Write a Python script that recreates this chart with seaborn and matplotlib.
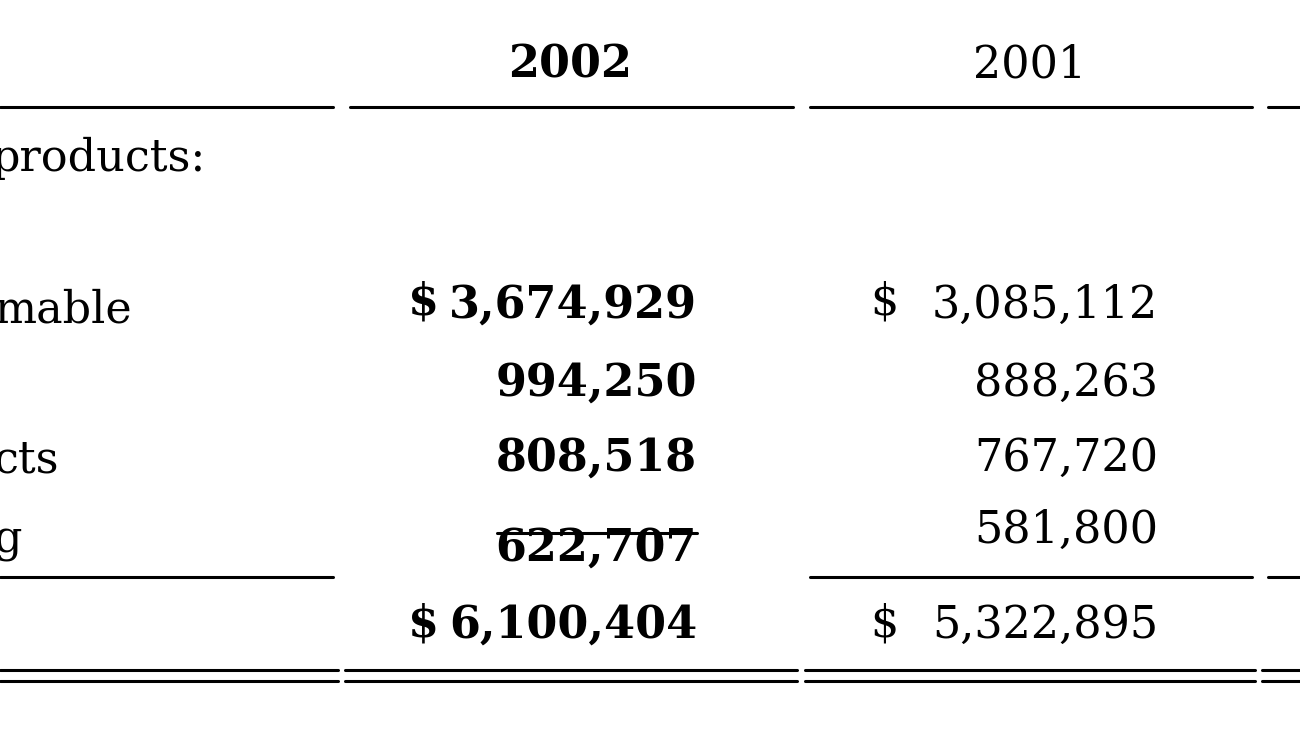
import matplotlib
matplotlib.use("Agg")
from matplotlib import pyplot as plt
import seaborn as sns

sns.set_style("white")
plt.rcParams['font.family'] = ['DejaVu Serif', 'Liberation Serif']
plt.rcParams['text.color'] = 'black'

# table data
years = ["2002", "2001"]
row_labels = ["mable", "", "cts", "g"]
values_2002 = ["3,674,929", "994,250", "808,518", "622,707"]
values_2001 = ["3,085,112", "888,263", "767,720", "581,800"]
totals = ["6,100,404", "5,322,895"]

fig = plt.figure(figsize=(13, 7.32), dpi=100)
ax = fig.add_axes([0, 0, 1, 1])
ax.set_xlim(0, 1300)
ax.set_ylim(732, 0)
ax.axis("off")

fs = 32
col_center = [570, 1030]
col_right = [697, 1158]
dollar_x = [408, 870]
weights = ["bold", "normal"]
row_y = [305, 383, 458, 548]

for yr, cx, w in zip(years, col_center, weights):
    ax.text(cx, 65, yr, ha="center", va="center", fontsize=fs, fontweight=w)

ax.text(-8, 158, "products:", ha="left", va="center", fontsize=fs)
for lab, y in zip(row_labels, [310, 383, 460, 540]):
    if lab:
        ax.text(-6, y, lab, ha="left", va="center", fontsize=fs)

for vals, rx, w, dx in zip([values_2002, values_2001], col_right, weights, dollar_x):
    for i, (v, y) in enumerate(zip(vals, row_y)):
        if vals is values_2001 and i == 3:
            y = 530
        ax.text(rx, y, v, ha="right", va="center", fontsize=fs, fontweight=w)
    ax.text(dx, 302, "$", ha="left", va="center", fontsize=fs, fontweight=w)

for t, rx, w, dx in zip(totals, col_right, weights, dollar_x):
    ax.text(rx, 625, t, ha="right", va="center", fontsize=fs, fontweight=w)
    ax.text(dx, 624, "$", ha="left", va="center", fontsize=fs, fontweight=w)

lw = 2.2
for a, b in [(0, 333), (350, 793), (810, 1252), (1268, 1300)]:
    ax.plot([a, b], [107, 107], color="black", lw=lw)
for a, b in [(0, 333), (810, 1252), (1268, 1300)]:
    ax.plot([a, b], [577, 577], color="black", lw=lw)
ax.plot([497, 697], [533, 533], color="black", lw=lw)
for a, b in [(0, 338), (345, 797), (805, 1255), (1262, 1300)]:
    ax.plot([a, b], [670, 670], color="black", lw=lw)
    ax.plot([a, b], [681, 681], color="black", lw=lw)

fig.savefig("out.png", dpi=100)
